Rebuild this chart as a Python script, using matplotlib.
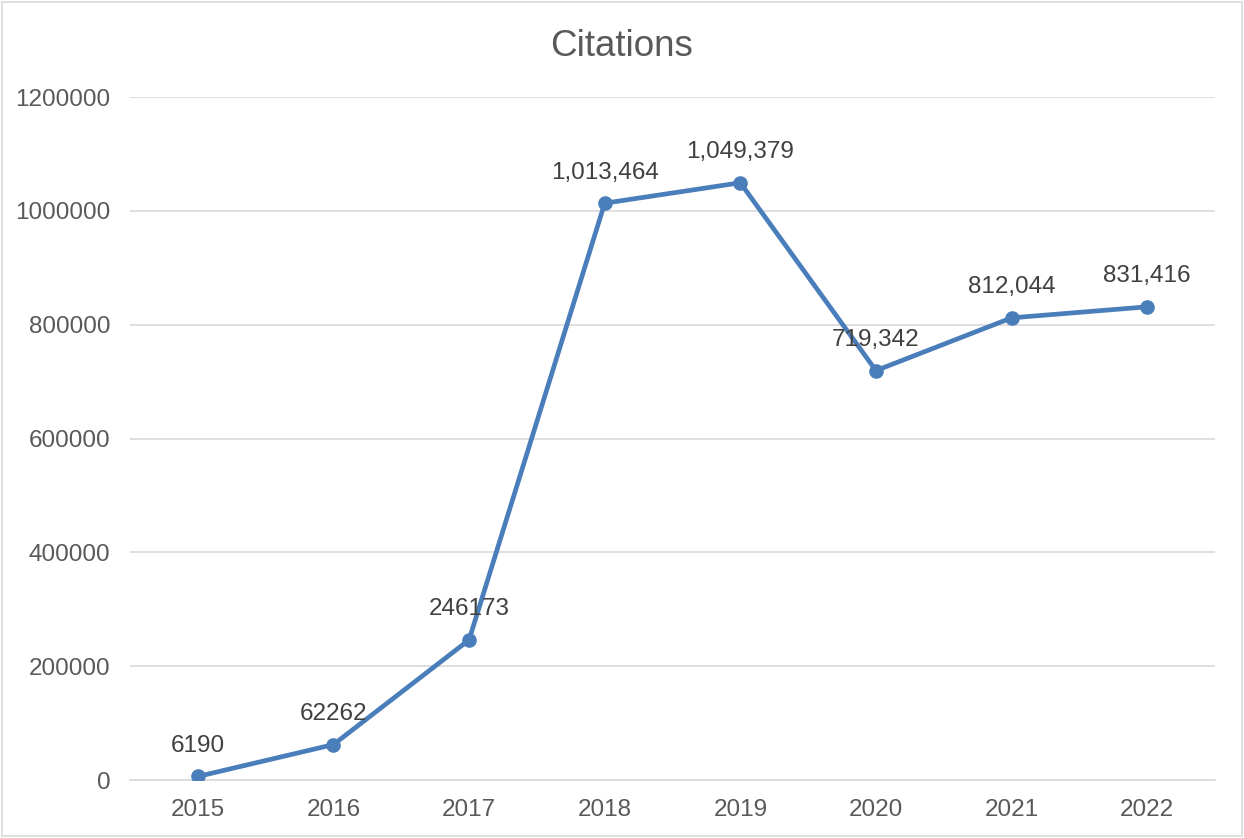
import matplotlib
matplotlib.use("Agg")
import matplotlib.pyplot as plt
from matplotlib.patches import Rectangle

years = ["2015", "2016", "2017", "2018", "2019", "2020", "2021", "2022"]
citations = [6190, 62262, 246173, 1013464, 1049379, 719342, 812044, 831416]
labels = ["6190", "62262", "246173", "1,013,464", "1,049,379", "719,342", "812,044", "831,416"]
yticks = [0, 200000, 400000, 600000, 800000, 1000000, 1200000]

plt.rcParams['font.family'] = ['Liberation Sans', 'DejaVu Sans']

fig = plt.figure(figsize=(12.44, 8.38), dpi=100)
ax = fig.add_axes([0.1045, 0.0692, 0.8722, 0.815])

x = list(range(len(years)))
ax.plot(x, citations, color='#4A7EBB', linewidth=3.4, marker='o', markersize=9.5,
        solid_capstyle='round', solid_joinstyle='round', zorder=3)

for xi, yi, lab in zip(x, citations, labels):
    ax.annotate(lab, (xi, yi), xytext=(0, 22), textcoords='offset points',
                ha='center', va='center', fontsize=17.5, color='#404040', zorder=4)

ax.set_xlim(-0.5, len(years) - 0.5)
ax.set_ylim(0, 1200000)
ax.set_xticks(x)
ax.set_xticklabels(years)
ax.set_yticks(yticks)
ax.set_yticklabels([str(v) for v in yticks])
ax.tick_params(axis='both', length=0, labelsize=17.5, colors='#595959')
ax.tick_params(axis='x', pad=14)
ax.tick_params(axis='y', pad=14)
ax.grid(axis='y', color='#D9D9D9', linewidth=1.2)
ax.set_axisbelow(True)
for s in ['top', 'right', 'left']:
    ax.spines[s].set_visible(False)
ax.spines['bottom'].set_color('#D9D9D9')
ax.spines['bottom'].set_linewidth(1.2)

fig.text(0.5, 0.945, "Citations", ha='center', va='center', fontsize=26.5, color='#595959')

fig.patches.append(Rectangle((0.0015, 0.002), 0.997, 0.996, transform=fig.transFigure,
                             fill=False, edgecolor='#D9D9D9', linewidth=1.2))

fig.savefig("out.png", dpi=100)
